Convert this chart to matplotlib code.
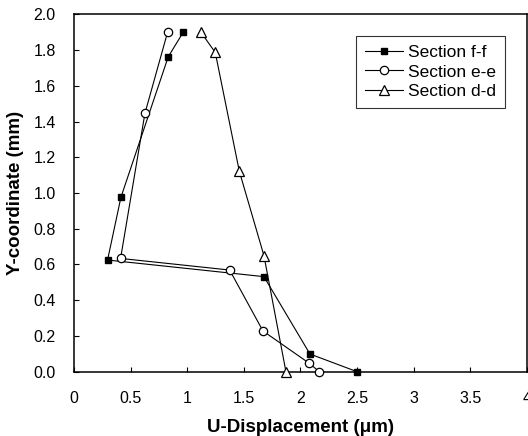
import matplotlib
matplotlib.use("Agg")
import matplotlib.pyplot as plt

plt.rcParams["font.family"] = ["Liberation Sans", "DejaVu Sans"]

# Section f-f (filled squares)
ff_x = [0.965, 0.833, 0.415, 0.297, 1.678, 2.084, 2.50]
ff_y = [1.90, 1.763, 0.976, 0.625, 0.532, 0.099, 0.00]

# Section e-e (open circles)
ee_x = [0.827, 0.627, 0.412, 1.375, 1.669, 2.078, 2.166]
ee_y = [1.90, 1.446, 0.634, 0.569, 0.228, 0.047, 0.00]

# Section d-d (open triangles)
dd_x = [1.121, 1.248, 1.46, 1.678, 1.872]
dd_y = [1.90, 1.787, 1.123, 0.649, 0.00]

x_ticks = [0, 0.5, 1, 1.5, 2, 2.5, 3, 3.5, 4]
x_labels = ["0", "0.5", "1", "1.5", "2", "2.5", "3", "3.5", "4"]
y_ticks = [0.0, 0.2, 0.4, 0.6, 0.8, 1.0, 1.2, 1.4, 1.6, 1.8, 2.0]

fig = plt.figure(figsize=(5.28, 4.36), dpi=100)
ax = fig.add_axes([0.140, 0.1475, 0.858, 0.8195])

ax.plot(ff_x, ff_y, color="black", lw=0.8, marker="s", ms=5,
        mfc="black", mec="black", label="Section f-f", clip_on=False, zorder=3)
ax.plot(ee_x, ee_y, color="black", lw=0.8, marker="o", ms=6,
        mfc="white", mec="black", mew=0.9, label="Section e-e", clip_on=False, zorder=3)
ax.plot(dd_x, dd_y, color="black", lw=0.8, marker="^", ms=6.5,
        mfc="white", mec="black", mew=0.9, label="Section d-d", clip_on=False, zorder=3)

ax.set_xlim(0, 4)
ax.set_ylim(0, 2.0)
ax.set_xticks(x_ticks)
ax.set_xticklabels(x_labels)
ax.set_yticks(y_ticks)
ax.set_yticklabels([f"{v:.1f}" for v in y_ticks])
ax.tick_params(direction="in", length=3.5, width=0.8, labelsize=11.5)
ax.tick_params(axis="x", pad=14)
ax.tick_params(axis="y", pad=13)

for s in ax.spines.values():
    s.set_linewidth(1.1)

ax.set_xlabel("U-Displacement (μm)", fontsize=13.5, fontweight="bold", labelpad=9)
ax.set_ylabel("Y-coordinate (mm)", fontsize=13.5, fontweight="bold", labelpad=7)

leg = ax.legend(loc="upper right", bbox_to_anchor=(0.951, 0.939), borderaxespad=0,
                fontsize=12.5, frameon=True, fancybox=False, edgecolor="black",
                handlelength=2.2, handletextpad=0.3, borderpad=0.5,
                labelspacing=0.25, markerscale=1.0)
leg.get_frame().set_linewidth(0.8)

fig.savefig("out.png", dpi=100)
